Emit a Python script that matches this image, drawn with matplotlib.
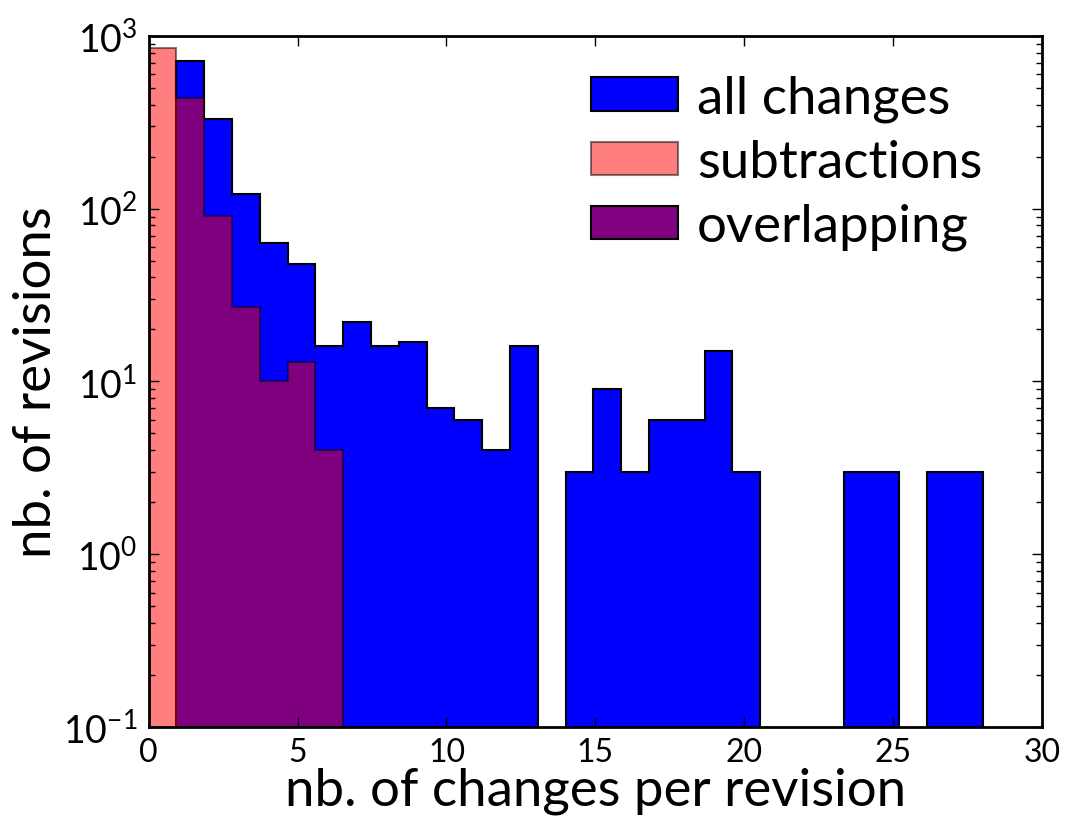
import numpy as np
import matplotlib
matplotlib.use("Agg")
from matplotlib import pyplot as plt
from matplotlib.patches import Patch

# histogram counts per bin (30 equal bins over 0..28)
MAX_CHANGES = 28
N_BINS = 30
all_counts = [0, 714, 330, 122, 63, 48, 16, 22, 16, 17, 7, 6, 4, 16, 0,
              3, 9, 3, 6, 6, 15, 3, 0, 0, 0, 3, 3, 0, 3, 3]
sub_counts = [849, 436, 91, 27, 10, 13, 4, 0, 0, 0, 0, 0, 0, 0, 0,
              0, 0, 0, 0, 0, 0, 0, 0, 0, 0, 0, 0, 0, 0, 0]
legend_labels = ["all changes", "subtractions", "overlapping"]
x_ticks = [0, 5, 10, 15, 20, 25, 30]

plt.rcParams["font.family"] = ["Lato", "DejaVu Sans"]
plt.rcParams["mathtext.default"] = "regular"

edges = np.linspace(0, MAX_CHANGES, N_BINS + 1)

fig = plt.figure(figsize=(10.69, 8.28), dpi=100)
ax = fig.add_axes([0.139, 0.1208, 0.836, 0.8345])

ax.hist(edges[:-1], bins=edges, weights=all_counts, histtype="stepfilled",
        log=True, facecolor="blue", edgecolor="black", linewidth=1.5)
ax.hist(edges[:-1], bins=edges, weights=sub_counts, histtype="stepfilled",
        log=True, facecolor="red", edgecolor="black", linewidth=1.5, alpha=0.5)

ax.set_xlim(0, 30)
ax.set_ylim(0.1, 1000)
ax.set_xticks(x_ticks)

ax.tick_params(which="both", direction="in", top=True, right=True)
ax.tick_params(axis="x", labelsize=23, pad=7)
ax.tick_params(axis="y", labelsize=27, pad=8)
ax.tick_params(which="major", length=7, width=1)
ax.tick_params(which="minor", length=4, width=1)
for spine in ax.spines.values():
    spine.set_linewidth(2)

ax.set_xlabel("nb. of changes per revision", fontsize=38, labelpad=0)
ax.set_ylabel("nb. of revisions", fontsize=38, labelpad=2)

handles = [
    Patch(facecolor="blue", edgecolor="black", linewidth=1.5),
    Patch(facecolor="red", edgecolor="black", linewidth=1.5, alpha=0.5),
    Patch(facecolor="purple", edgecolor="black", linewidth=1.5),
]
ax.legend(handles, legend_labels, loc="upper right", frameon=False, fontsize=38,
          handlelength=1.65, handleheight=0.59, handletextpad=0.36,
          labelspacing=0.32, bbox_to_anchor=(0.968, 0.99), borderaxespad=0.2)

fig.savefig("out.png", dpi=100)
